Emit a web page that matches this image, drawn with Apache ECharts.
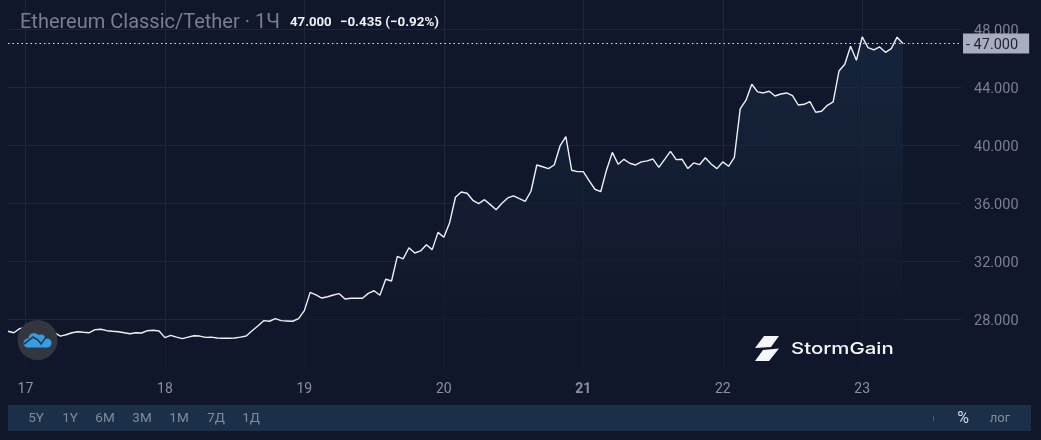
<!DOCTYPE html>
<html><head><meta charset="utf-8">
<script src="https://cdn.jsdelivr.net/npm/echarts@6/dist/echarts.min.js"></script>
<style>html,body{margin:0;padding:0;background:#11172a}#c{width:1041px;height:440px}</style>
</head><body><div id="c"></div>
<script>
const hourLabels = [
'','','','17','','','','','','','','','','','','','','','','','','','','','','','','18','','','','','','','','','','','','','','','','','','','','','','','','19','','','','','','','','','','','','','','','','','','','','','','','','20','','','','','','','','','','','','','','','','','','','','','','','','21','','','','','','','','','','','','','','','','','','','','','','','','22','','','','','','','','','','','','','','','','','','','','','','','','23','','','','','','','','','','','','','','','','',''];
const prices = [
27.19,27.09,27.37,27.45,27.35,27.28,27.2,27.14,27.1,26.86,26.95,27.09,27.16,27.12,27.09,27.3,27.33,27.23,27.19,27.16,
27.09,27.02,27.09,27.07,27.23,27.26,27.21,26.75,26.91,26.79,26.68,26.79,26.88,26.86,26.77,26.79,26.73,26.71,26.71,26.73,
26.79,26.86,27.23,27.55,27.92,27.88,28.06,27.92,27.9,27.88,28.06,28.61,29.87,29.69,29.48,29.57,29.69,29.78,29.41,29.46,
29.46,29.46,29.8,29.98,29.67,30.77,30.65,32.35,32.17,32.94,32.58,32.72,33.15,32.81,34.0,33.66,34.67,36.42,36.78,36.69,
36.21,35.98,36.25,35.91,35.56,36.0,36.37,36.51,36.32,36.14,36.83,38.64,38.52,38.39,38.64,39.95,40.59,38.28,38.18,38.18,
37.56,36.97,36.8,38.3,39.51,38.69,39.03,38.76,38.64,38.85,38.92,39.05,38.48,39.03,39.58,39.01,39.03,38.39,38.78,38.66,
39.14,38.71,38.39,38.85,38.55,39.17,42.5,43.1,44.2,43.67,43.6,43.72,43.39,43.53,43.6,43.41,42.77,42.82,43.0,42.27,
42.34,42.75,42.98,45.11,45.58,46.82,45.85,47.46,46.72,46.56,46.77,46.4,46.65,47.44,47.0];
const lastPrice = 47;
const rangeButtons = [['5Y',36],['1Y',70],['6M',105],['3M',142],['1M',179],['7Д',216],['1Д',251]];
const BG = '#11172a', GRID = '#1f2638', FONT = 'Roboto, sans-serif', CLOUD = '#2f9fe8';

const chart = echarts.init(document.getElementById('c'), null, {renderer:'canvas'});
const txt = (x,y,text,size,fill,weight,align) => ({type:'text',z:50,silent:true,
  style:{x,y,text,font:`${weight||400} ${size}px ${FONT}`,fill,textAlign:align||'left',textVerticalAlign:'middle'}});
const dot = (cx,cy,r) => ({type:'circle',z:61,silent:true,shape:{cx,cy,r},style:{fill:CLOUD}});

chart.setOption({
  animation:false,
  backgroundColor:BG,
  grid:{left:8,top:0,width:953,height:377.6,containLabel:false},
  xAxis:{type:'category',boundaryGap:false,data:hourLabels,
    axisLine:{show:false},axisTick:{show:false},
    axisLabel:{show:false},
    splitLine:{show:true,lineStyle:{color:GRID,width:1},
      interval:(i,v)=>v!==''}},
  yAxis:{type:'value',position:'right',min:24,max:50,interval:4,
    axisLine:{show:false},axisTick:{show:false},
    axisLabel:{margin:13,
      formatter:v=>(v>=28&&v<=48)?'{p|'+v.toFixed(3)+'}':'',
      rich:{p:{color:'#7b7f90',fontFamily:FONT,fontSize:14.5,padding:[4,0,0,0]}}},
    splitLine:{show:true,showMinLine:false,showMaxLine:false,lineStyle:{color:GRID,width:1}}},
  series:[{type:'line',data:prices,symbol:'none',showSymbol:false,smooth:false,
    lineStyle:{color:'#eef0f4',width:1.4},
    areaStyle:{color:new echarts.graphic.LinearGradient(0,0,0,1,[
      {offset:0,color:'#172a43'},{offset:0.83,color:BG},{offset:1,color:BG}])},
    markLine:{silent:true,symbol:'none',animation:false,precision:3,
      lineStyle:{color:'#dfe2ea',type:[1.5,3],width:1.2},
      label:{show:true,position:'end',distance:2,formatter:'{t|- '+lastPrice.toFixed(3)+'}',
        backgroundColor:'#a9adc2',padding:[3,11,2,3],
        rich:{t:{color:'#23262f',fontFamily:FONT,fontSize:14.5,padding:[2,0,0,0],lineHeight:15}}},
      data:[{yAxis:lastPrice}]}}],
  graphic:[
    {type:'rect',z:40,silent:true,shape:{x:0,y:368,width:1041,height:72},style:{fill:BG}},
    ...hourLabels.map((h,i)=>[h,i]).filter(a=>a[0]).map(a=>
      txt(8+a[1]*953/164,389,a[0],14,'#8b8f9e',a[0]==='21'?700:400,'center')),
    txt(20,22.5,'Ethereum Classic/Tether · 1Ч',20,'#7a7e90',400),
    txt(290,23,lastPrice.toFixed(3),13.2,'#eef0f4',700),
    txt(340,23,'−0.435 (−0.92%)',13.4,'#eef0f4',700),
    {type:'rect',z:41,silent:true,shape:{x:8,y:405,width:1023,height:26},style:{fill:'#1b3048'}},
    ...rangeButtons.map(b=>txt(b[1],418.5,b[0],13.5,'#7f8b9c',400,'center')),
    txt(963,419,'%',16,'#d5d9e0',400,'center'),
    txt(1000,419,'лог',13,'#7f8b9c',400,'center'),
    {type:'rect',z:50,silent:true,shape:{x:933,y:416,width:1,height:5},style:{fill:'#4c5a6c'}},
    {type:'circle',z:60,silent:true,shape:{cx:37.5,cy:340,r:20},style:{fill:'#34363f'}},
    dot(28,343,4.5), dot(34,338.5,5.5), dot(41,339,4.5), dot(47,343,4.5),
    {type:'rect',z:61,silent:true,shape:{x:28,y:341,width:19,height:6.5},style:{fill:CLOUD}},
    {type:'polyline',z:62,silent:true,shape:{points:[[24,344],[33,337],[38,340],[41,344],[46,337]]},
      style:{stroke:'#34363f',lineWidth:1.6,fill:null}},
    {type:'polygon',z:60,silent:true,shape:{points:[[764,336],[779,336],[771,347],[755,348]]},style:{fill:'#f6f7f8'}},
    {type:'polygon',z:60,silent:true,shape:{points:[[763,350],[779,348.5],[769,361],[755,361]]},style:{fill:'#f6f7f8'}},
    {type:'text',z:60,silent:true,x:791,y:349,scaleX:1.235,style:{x:0,y:0,text:'StormGain',font:'500 16.5px Inter, sans-serif',fill:'#f6f7f8',
      textVerticalAlign:'middle'}}
  ]
});
</script></body></html>
